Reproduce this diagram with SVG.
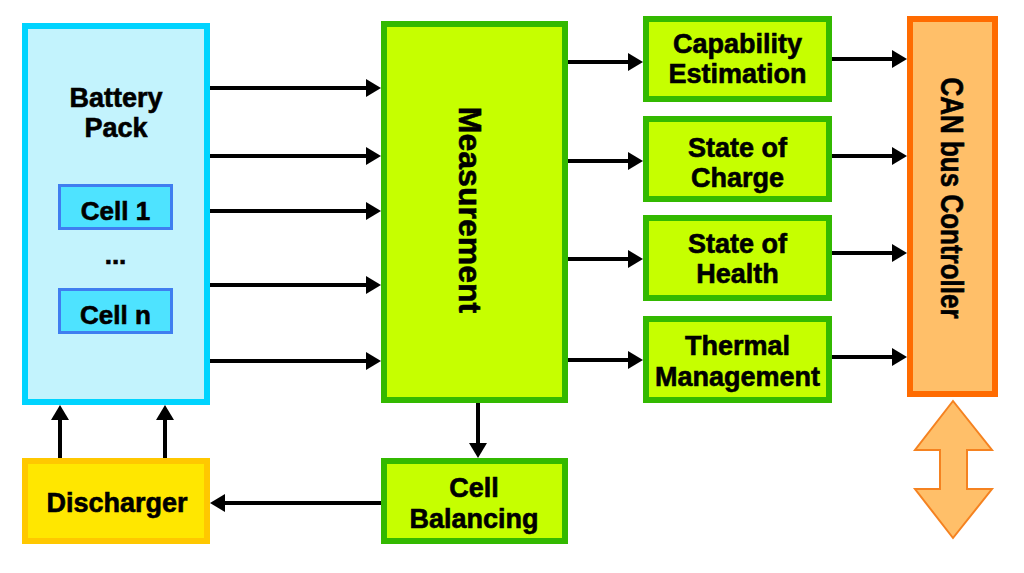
<svg xmlns="http://www.w3.org/2000/svg" width="1024" height="573" viewBox="0 0 1024 573">
  <style>
    text { font-family: "Liberation Sans", Arial, sans-serif; font-weight: bold; fill: #000; stroke: #000; stroke-width: 0.6; text-anchor: middle; }
    .t { font-size: 27px; }
    .green { fill: #C6FF00; stroke: #33B900; stroke-width: 6; }
    .battery { fill: #C3F3FD; stroke: #00D4FF; stroke-width: 6; }
    .cell { fill: #4EE3FF; stroke: #3F7EF0; stroke-width: 3; }
    .can { fill: #FFBF69; stroke: #FF6B00; stroke-width: 6; }
    .dis { fill: #FFE700; stroke: #FFC800; stroke-width: 6; }
    .conn { stroke: #000; stroke-width: 4; fill: none; marker-end: url(#ah); }
  </style>
  <defs>
    <marker id="ah" markerUnits="userSpaceOnUse" markerWidth="18" markerHeight="20" refX="1" refY="9" orient="auto">
      <path d="M0,0 L15,9 L0,18 Z" fill="#000"/>
    </marker>
  </defs>
  <rect width="1024" height="573" fill="#fff"/>

  <g id="battery-pack">
    <rect class="battery" x="25" y="26" width="182" height="376"/>
    <text class="t" x="116" y="107">Battery</text>
    <text class="t" x="116" y="137">Pack</text>
  </g>
  <g id="cell-1">
    <rect class="cell" x="59.5" y="185.5" width="112" height="43"/>
    <text x="115.5" y="220" font-size="26">Cell 1</text>
  </g>
  <text x="115.5" y="264" font-size="26">...</text>
  <g id="cell-n">
    <rect class="cell" x="59.5" y="289.5" width="112" height="43"/>
    <text x="115.5" y="324" font-size="26">Cell n</text>
  </g>

  <g id="measurement">
    <rect class="green" x="384" y="24" width="181" height="376"/>
    <text transform="translate(459,210) rotate(90)" font-size="32">Measurement</text>
  </g>

  <g id="capability-estimation">
    <rect class="green" x="646" y="19" width="183" height="80"/>
    <text class="t" x="737.5" y="53">Capability</text>
    <text class="t" x="737.5" y="83">Estimation</text>
  </g>
  <g id="state-of-charge">
    <rect class="green" x="646" y="119" width="183" height="80"/>
    <text class="t" x="737.5" y="157">State of</text>
    <text class="t" x="737.5" y="187">Charge</text>
  </g>
  <g id="state-of-health">
    <rect class="green" x="646" y="218" width="183" height="80"/>
    <text class="t" x="737.5" y="253">State of</text>
    <text class="t" x="737.5" y="283">Health</text>
  </g>
  <g id="thermal-management">
    <rect class="green" x="646" y="319" width="183" height="81"/>
    <text class="t" x="737.5" y="355">Thermal</text>
    <text class="t" x="737.5" y="386">Management</text>
  </g>

  <g id="can-bus-controller">
    <rect class="can" x="910" y="19" width="85" height="375"/>
    <text transform="translate(941,198) rotate(90)" font-size="32" textLength="241" lengthAdjust="spacingAndGlyphs">CAN bus Controller</text>
  </g>
  <g id="can-bus">
    <polygon points="953,401 992,450 967,450 967,489 992,489 953,538 915,489 940,489 940,450 915,450" fill="#FFBF69" stroke="#F58220" stroke-width="2" stroke-linejoin="miter"/>
  </g>

  <g id="discharger">
    <rect class="dis" x="25" y="461" width="182" height="80"/>
    <text class="t" x="117" y="512">Discharger</text>
  </g>
  <g id="cell-balancing">
    <rect class="green" x="384" y="461" width="181" height="80"/>
    <text class="t" x="474" y="497">Cell</text>
    <text class="t" x="474" y="528">Balancing</text>
  </g>

  <g id="connectors">
    <line class="conn" x1="210" y1="88" x2="367" y2="88"/>
    <line class="conn" x1="210" y1="156" x2="367" y2="156"/>
    <line class="conn" x1="210" y1="211" x2="367" y2="211"/>
    <line class="conn" x1="210" y1="285" x2="367" y2="285"/>
    <line class="conn" x1="210" y1="361" x2="367" y2="361"/>

    <line class="conn" x1="568" y1="62" x2="629" y2="62"/>
    <line class="conn" x1="568" y1="161" x2="629" y2="161"/>
    <line class="conn" x1="568" y1="259" x2="629" y2="259"/>
    <line class="conn" x1="568" y1="360" x2="629" y2="360"/>

    <line class="conn" x1="832" y1="59" x2="893" y2="59"/>
    <line class="conn" x1="832" y1="156" x2="893" y2="156"/>
    <line class="conn" x1="832" y1="253" x2="893" y2="253"/>
    <line class="conn" x1="832" y1="357" x2="893" y2="357"/>

    <line class="conn" x1="478" y1="403" x2="478" y2="444"/>
    <line class="conn" x1="381" y1="503" x2="224" y2="503"/>
    <line class="conn" x1="60" y1="458" x2="60" y2="419"/>
    <line class="conn" x1="165" y1="458" x2="165" y2="419"/>
  </g>
</svg>
